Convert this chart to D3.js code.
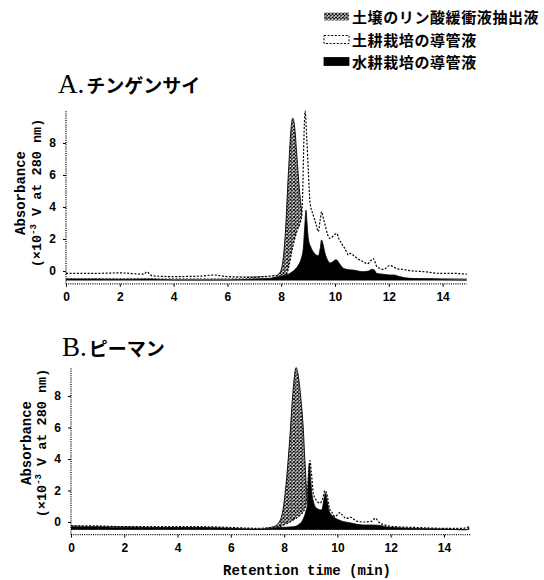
<!DOCTYPE html>
<html>
<head>
<meta charset="utf-8">
<script src="https://cdn.jsdelivr.net/npm/d3@7/dist/d3.min.js"></script>
<style>
  body { margin: 0; background: #fff; }
  svg { display: block; }
</style>
</head>
<body>
<svg id="chart" width="544" height="580"></svg>
<script>
// Chromatograms of soil extract / xylem sap

const xTicks = [0, 2, 4, 6, 8, 10, 12, 14];
const yTicks = [0, 2, 4, 6, 8];

const legendLabels = ['土壌のリン酸緩衝液抽出液', '土耕栽培の導管液', '水耕栽培の導管液'];
const panelTitles = [['A.', 'チンゲンサイ'], ['B.', 'ピーマン']];
const yTitle = ['Absorbance', '(×10', '-3', ' V at 280 nm)'];
const xTitle = 'Retention time (min)';

// Panel A  [time (min), absorbance]
const aExtract = [[0,-0.3],[2,-0.3],[4,-0.4],[6,-0.4],[7.5,-0.35],[7.8,-0.3],[7.9,-0.2],[8.02,0.2],[8.14,2.0],
  [8.27,6.2],[8.36,8.8],[8.43,9.55],[8.5,9.0],[8.58,7.25],[8.67,5.2],[8.76,3.7],[8.85,2.5],[9.0,1.2],[9.2,0.4],
  [9.5,0.1],[10,-0.1],[11,-0.3],[12,-0.4],[13,-0.45],[14.9,-0.5]];
const aSoilSap = [[0,-0.15],[1,-0.15],[2,-0.12],[2.9,-0.2],[3.0,-0.05],[3.2,-0.3],[4,-0.35],[5,-0.32],[5.5,-0.25],
  [6,-0.35],[7,-0.4],[7.8,-0.3],[8.1,-0.3],[8.2,-0.2],[8.3,0.4],[8.39,1.2],[8.5,2.0],[8.58,2.46],[8.7,3.0],
  [8.76,3.4],[8.8,5.0],[8.84,8.0],[8.89,10.0],[8.95,8.3],[9.01,6.2],[9.07,4.3],[9.19,3.5],[9.3,2.9],[9.38,2.46],
  [9.45,3.2],[9.5,3.7],[9.55,3.4],[9.63,2.9],[9.72,2.3],[9.81,2.04],[9.95,2.2],[10.06,2.35],[10.15,2.0],
  [10.25,1.7],[10.37,1.4],[10.5,1.0],[10.56,1.1],[10.74,0.9],[10.9,0.7],[11.05,0.58],[11.2,0.45],[11.36,0.69],
  [11.42,0.78],[11.55,0.3],[11.8,0.1],[12.04,0.35],[12.29,0.15],[12.5,0.1],[12.79,0.02],[13.28,-0.04],
  [13.9,-0.15],[14.4,-0.15],[14.9,-0.2]];
const aHydroSap = [[0,-0.5],[1,-0.5],[2,-0.52],[3,-0.5],[4,-0.55],[5,-0.55],[6,-0.55],[7,-0.5],[7.6,-0.45],
  [7.9,-0.35],[8.1,-0.3],[8.27,-0.2],[8.45,0.0],[8.64,0.37],[8.75,0.8],[8.82,1.4],[8.88,2.9],[8.92,3.8],
  [8.96,3.0],[9.01,2.0],[9.1,1.5],[9.19,1.2],[9.3,1.0],[9.38,0.95],[9.45,1.4],[9.5,1.94],[9.55,1.7],[9.63,1.1],
  [9.72,0.7],[9.81,0.5],[9.9,0.55],[10.0,0.69],[10.06,0.69],[10.15,0.5],[10.31,0.17],[10.5,0.08],[10.68,0.06],
  [10.85,0.0],[11.05,-0.04],[11.25,0.0],[11.36,0.1],[11.45,0.08],[11.55,-0.15],[11.8,-0.2],[12.04,-0.25],
  [12.2,-0.25],[12.4,-0.35],[12.79,-0.46],[13.5,-0.5],[14.2,-0.54],[14.9,-0.56]];

// Panel B
const bExtract = [[0,-0.25],[1,-0.3],[2,-0.3],[3,-0.35],[4,-0.35],[5,-0.4],[6,-0.45],[7,-0.45],[7.6,-0.3],
  [7.85,0.1],[7.97,0.9],[8.1,2.9],[8.22,5.5],[8.32,8.0],[8.45,9.8],[8.52,9.4],[8.62,8.0],[8.72,5.9],[8.78,3.9],
  [8.85,1.9],[8.95,1.0],[9.2,0.5],[9.5,0.1],[10,-0.15],[11,-0.3],[12,-0.4],[14.9,-0.45]];
const bSoilSap = [[0,-0.25],[1,-0.25],[2,-0.3],[3,-0.3],[4,-0.3],[5,-0.3],[6,-0.35],[7,-0.4],[7.8,-0.3],
  [7.97,-0.2],[8.35,0.13],[8.6,0.44],[8.78,0.87],[8.88,2.0],[8.93,3.4],[8.97,3.9],[9.02,3.2],[9.1,1.8],[9.2,1.4],
  [9.35,1.2],[9.45,1.5],[9.53,2.0],[9.6,1.8],[9.7,0.9],[9.8,0.6],[9.91,0.34],[10.1,0.6],[10.2,0.4],[10.35,0.23],
  [10.5,0.3],[10.72,0.05],[11.0,0.0],[11.3,0.05],[11.42,0.25],[11.55,0.0],[11.8,-0.2],[12.2,-0.3],[13,-0.35],
  [14,-0.4],[14.7,-0.4],[14.95,-0.3]];
const bHydroSap = [[0,-0.3],[1,-0.3],[2,-0.35],[3,-0.35],[4,-0.35],[5,-0.35],[6,-0.4],[7,-0.45],[7.8,-0.35],
  [8.35,-0.3],[8.6,-0.1],[8.72,0.2],[8.82,0.7],[8.87,1.08],[8.91,2.8],[8.95,3.7],[9.0,2.6],[9.07,1.5],[9.22,0.87],
  [9.41,0.76],[9.5,1.5],[9.55,1.86],[9.62,1.3],[9.7,0.65],[9.85,0.34],[10.1,0.1],[10.47,-0.05],[10.97,-0.19],
  [11.5,-0.2],[11.97,-0.34],[12.8,-0.4],[14,-0.45],[14.8,-0.5],[14.95,-0.35]];

// floor each trace is filled down to
const floorsA = [-0.5, -0.45, -0.6];
const floorsB = [-0.5, -0.45, -0.5];


const svg = d3.select('#chart');

// Crosshatch used for the soil extract trace
const defs = svg.append('defs');
const hatch = defs.append('pattern')
    .attr('id', 'hatch')
    .attr('patternUnits', 'userSpaceOnUse')
    .attr('width', 3.5)
    .attr('height', 3.5);
hatch.append('rect').attr('width', 3.5).attr('height', 3.5).attr('fill', '#fff');
hatch.append('path')
    .attr('d', 'M0,0L3.5,3.5M3.5,0L0,3.5')
    .attr('stroke', '#000')
    .attr('stroke-width', 1);

const styles = [
    { fill: 'url(#hatch)', stroke: '#000', width: 0.9, dash: null },
    { fill: '#fff', stroke: '#000', width: 1.2, dash: '2,1.6' },
    { fill: '#000', stroke: '#000', width: 0.8, dash: null },
];

const panels = [
    { title: panelTitles[0], series: [aExtract, aSoilSap, aHydroSap], floors: floorsA,
      x: [66, 469.5], xEnd: 14.9, y: [283.8, 111], yDomain: [-0.8, 10],
      titleX: 58, titleY: 93, yLab: [25, 41], yMid: 193, tickY: 301 },
    { title: panelTitles[1], series: [bExtract, bSoilSap, bHydroSap], floors: floorsB,
      x: [71, 470.6], xEnd: 15, y: [534.6, 367.6], yDomain: [-0.8, 9.8],
      titleX: 62, titleY: 356, yLab: [31, 46], yMid: 443, tickY: 552 },
];

panels.forEach(p => drawPanel(p));
drawLegend();

// x title (panel B only)
svg.append('text')
    .attr('x', 307)
    .attr('y', 575)
    .attr('text-anchor', 'middle')
    .attr('font-family', 'Liberation Mono, DejaVu Sans Mono, monospace')
    .attr('font-weight', 'bold')
    .attr('font-size', 14)
    .text(xTitle);


function drawPanel(p) {

    const x = d3.scaleLinear().domain([0, 15]).range(p.x);
    const y = d3.scaleLinear().domain(p.yDomain).range(p.y);

    const g = svg.append('g');

    // traces: hatched first, white dashed over it, black on top
    p.series.forEach((data, i) => {
        const st = styles[i];
        const area = d3.area()
            .x(d => x(d[0]))
            .y0(y(p.floors[i]))
            .y1(d => y(d[1]))
            .curve(d3.curveMonotoneX);
        const line = d3.line()
            .x(d => x(d[0]))
            .y(d => y(d[1]))
            .curve(d3.curveMonotoneX);

        g.append('path')
            .datum(data)
            .attr('d', area)
            .attr('fill', st.fill);

        g.append('path')
            .datum(data)
            .attr('d', line)
            .attr('fill', 'none')
            .attr('stroke', st.stroke)
            .attr('stroke-width', st.width)
            .attr('stroke-dasharray', st.dash);
    });

    // y axis (dotted)
    const yAxis = g.append('g').attr('transform', `translate(${p.x[0]},0)`)
        .call(d3.axisLeft(y).tickValues(yTicks).tickSize(3).tickPadding(7));
    yAxis.select('.domain')
        .attr('d', `M0,${p.y[0]}V${p.y[1]}`)
        .attr('stroke-dasharray', '1,1.2')
        .attr('stroke-width', 1.3);
    yAxis.selectAll('text')
        .attr('font-family', 'Liberation Sans, Arial, sans-serif')
        .attr('font-weight', 'bold')
        .attr('font-size', 12);

    // x axis (dotted)
    const xAxis = g.append('g').attr('transform', `translate(0,${p.y[0]})`)
        .call(d3.axisBottom(x).tickValues(xTicks).tickSize(3).tickPadding(0));
    xAxis.select('.domain')
        .attr('d', `M${x(0)},0H${x(p.xEnd)}`)
        .attr('stroke-dasharray', '1,1.2')
        .attr('stroke-width', 1.3);
    xAxis.selectAll('text')
        .attr('y', null)
        .attr('dy', null)
        .attr('transform', `translate(0,${p.tickY - p.y[0]})`)
        .attr('font-family', 'Liberation Sans, Arial, sans-serif')
        .attr('font-weight', 'bold')
        .attr('font-size', 12);

    // panel title
    const t = svg.append('text').attr('x', p.titleX).attr('y', p.titleY);
    t.append('tspan')
        .attr('font-family', 'Liberation Serif, Times New Roman, serif')
        .attr('font-size', 27)
        .text(p.title[0]);
    t.append('tspan')
        .attr('font-family', 'Noto Sans CJK JP, sans-serif')
        .attr('font-weight', 'bold')
        .attr('font-size', 19)
        .attr('dx', 2)
        .text(p.title[1]);

    // y title, two rotated lines
    const mono = 'Liberation Mono, DejaVu Sans Mono, monospace';
    svg.append('text')
        .attr('transform', `translate(${p.yLab[0]},${p.yMid}) rotate(-90)`)
        .attr('text-anchor', 'middle')
        .attr('font-family', mono)
        .attr('font-weight', 'bold')
        .attr('font-size', 14)
        .text(yTitle[0]);

    const t2 = svg.append('text')
        .attr('transform', `translate(${p.yLab[1]},${p.yMid}) rotate(-90)`)
        .attr('text-anchor', 'middle')
        .attr('font-family', mono)
        .attr('font-weight', 'bold')
        .attr('font-size', 13.5);
    t2.append('tspan').text(yTitle[1]);
    t2.append('tspan').attr('font-size', 9).attr('dy', -5).text(yTitle[2]);
    t2.append('tspan').attr('dy', 5).text(yTitle[3]);
}


function drawLegend() {

    const rowY = [22.5, 45.5, 67.5];

    const lg = svg.append('g');

    legendLabels.forEach((label, i) => {
        const st = styles[i];
        lg.append('rect')
            .attr('x', 324)
            .attr('y', rowY[i] - 10)
            .attr('width', 25)
            .attr('height', 8)
            .attr('fill', st.fill)
            .attr('stroke', i === 0 ? 'none' : '#000')
            .attr('stroke-width', i === 1 ? 1 : 0.8)
            .attr('stroke-dasharray', st.dash);

        lg.append('text')
            .attr('x', 352)
            .attr('y', rowY[i])
            .attr('font-family', 'Noto Sans CJK JP, sans-serif')
            .attr('font-weight', 'bold')
            .attr('font-size', 15)
            .attr('letter-spacing', 0.6)
            .text(label);
    });
}
</script>
</body>
</html>
